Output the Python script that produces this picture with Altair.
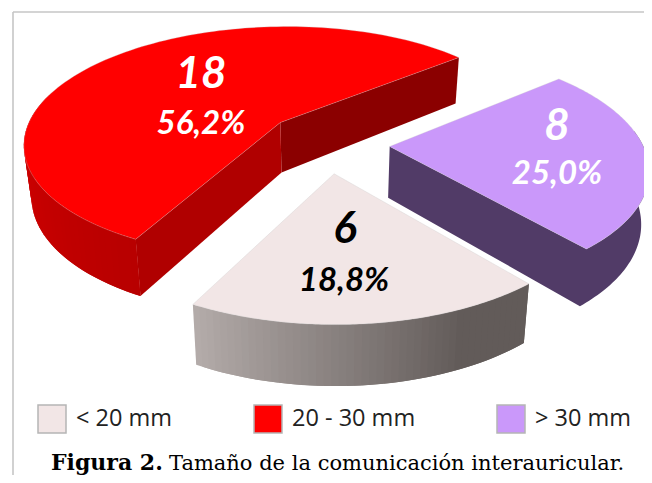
import numpy as np
import altair as alt

categories = ["< 20 mm", "20 - 30 mm", "> 30 mm"]
counts = [6, 18, 8]
percents = ["18,8%", "56,2%", "25,0%"]
top_colors = ["#f2e6e6", "#ff0000", "#ca98fa"]
label_colors = ["#000000", "#ffffff", "#ffffff"]

# clockwise order in which the slices run from the start angle
draw_order = [2, 0, 1]
START = -40.0
M = 8  # page margin
CX, CY, A, B, K, D, EXPL = 327 - M, 144 - M, 258, 118, 0.172, 51, 0.243
TAPER = 0.975
radius = [0.97, 1.0, 0.98]
nudge_x = [0, 1, 0]
nudge_y = [0, -4, 0]


def project(X, Z):
    f = 1 / (1 - K * Z)
    return CX + A * X * f, CY + B * Z * f, f


def top(i, X, Z):
    x, y, _ = project(X, Z)
    return [float(x + nudge_x[i]), float(y + nudge_y[i])]


def bottom(i, X, Z):
    x, y, f = project(X, Z)
    return [float(CX + (x - CX) * TAPER + nudge_x[i]), float(y + D * f ** 0.8 + nudge_y[i])]


def feature(ring, **props):
    ring = list(ring) + [ring[0]]
    return {"type": "Feature", "properties": props,
            "geometry": {"type": "Polygon", "coordinates": [ring]}}


def mix(c1, c2, t):
    t = min(t, 1.0)
    a = [int(c1[i:i + 2], 16) for i in (1, 3, 5)]
    b = [int(c2[i:i + 2], 16) for i in (1, 3, 5)]
    return "#%02x%02x%02x" % tuple(round(p + (q - p) * t) for p, q in zip(a, b))


total = sum(counts)
spans = {}
ang = START
for i in draw_order:
    sweep = counts[i] / total * 360
    spans[i] = (ang, ang + sweep)
    ang += sweep


def slice_geom(i):
    a0, a1 = spans[i]
    mid = np.radians((a0 + a1) / 2)
    ax, az = EXPL * np.cos(mid), EXPL * np.sin(mid)
    return ax, az, a0, a1


def world(i, deg):
    ax, az, _, _ = slice_geom(i)
    r = np.radians(deg)
    return ax + radius[i] * np.cos(r), az + radius[i] * np.sin(r)


def wall_strips(i, d0, d1, c0, c1, n=48, stretch=1.0):
    # every strip reaches over the next one, so that no seams show
    out = []
    edges = np.linspace(d0, d1, n + 1)
    for j in range(n):
        p, q = world(i, edges[j]), world(i, edges[min(j + 2, n)])
        col = mix(c0, c1, stretch * j / (n - 1))
        out.append(feature([top(i, *p), top(i, *q), bottom(i, *q), bottom(i, *p)], color=col))
    return out


def radial_wall(i, deg, col):
    ax, az, _, _ = slice_geom(i)
    e = world(i, deg)
    return feature([top(i, ax, az), top(i, *e), bottom(i, *e), bottom(i, ax, az)], color=col)


def flat_wall(i, d0, d1, col):
    # apex to the front corner, then along the rim, as one single shape
    ax, az, _, _ = slice_geom(i)
    degs = np.linspace(d0, d1, 60)
    upper = [top(i, ax, az)] + [top(i, *world(i, d)) for d in degs]
    lower = [bottom(i, *world(i, d)) for d in degs[::-1]] + [bottom(i, ax, az)]
    return feature(upper + lower, color=col)


walls = []
# 20 - 30 mm
walls.append(radial_wall(1, spans[1][1], "#8b0000"))
walls.append(radial_wall(1, spans[1][0], "#b00000"))
walls += wall_strips(1, 195, spans[1][0], "#d80000", "#b80000")
# > 30 mm
walls.append(flat_wall(2, spans[2][1], -8, "#513b67"))
# < 20 mm
walls += wall_strips(0, spans[0][1], spans[0][0], "#b3aba9", "#625b59", stretch=1.3)

tops = []
for i in [1, 2, 0]:
    ax, az, a0, a1 = slice_geom(i)
    arc = [top(i, *world(i, d)) for d in np.linspace(a0, a1, 120)]
    tops.append(feature([top(i, ax, az)] + arc, cat=categories[i]))

PROJ = dict(type="identity", scale=1, translate=[0, 0])


def geo_data(fs):
    return alt.InlineData(values={"type": "FeatureCollection", "features": fs},
                          format=alt.DataFormat(property="features", type="json"))


wall_layer = alt.Chart(geo_data(walls)).mark_geoshape(strokeWidth=0).encode(
    fill=alt.Color("properties.color:N", scale=None),
).project(**PROJ)

top_layer = alt.Chart(geo_data(tops)).mark_geoshape(stroke="#c8c8c8", strokeWidth=0.3).encode(
    fill=alt.Fill("properties.cat:N",
                  scale=alt.Scale(domain=categories, range=top_colors),
                  legend=alt.Legend(title=None, orient="none", legendX=37 - M, legendY=404 - M,
                                    direction="horizontal", columns=3, symbolType="square",
                                    symbolSize=784, symbolStrokeColor="#b5b5b5",
                                    symbolStrokeWidth=1.5, labelFont="Open Sans", labelFontSize=23.5,
                                    labelColor="#222222", labelOffset=9, columnPadding=78,
                                    padding=0, labelLimit=300)),
).project(**PROJ)

# label anchors, given on the page
count_x = [345 - M, 201 - M, 557 - M]
count_y = [230 - M, 75 - M, 127 - M]
pct_x = [344 - M, 201 - M, 557 - M]
pct_y = [281 - M, 124 - M, 174 - M]

count_rows = [{"t": str(c), "x": x, "y": y, "c": col}
              for c, x, y, col in zip(counts, count_x, count_y, label_colors)]
pct_rows = [{"t": p, "x": x, "y": y, "c": col}
            for p, x, y, col in zip(percents, pct_x, pct_y, label_colors)]


def labels(rows, size):
    return alt.Chart(alt.Data(values=rows)).mark_text(
        font="Lato", fontWeight="bold", fontStyle="italic", fontSize=size, baseline="middle"
    ).encode(
        x=alt.X("x:Q", scale=None), y=alt.Y("y:Q", scale=None),
        text="t:N", color=alt.Color("c:N", scale=None),
    )


W, H = 636, 467
frame_color = "#c6c6c6"
frame_top = alt.Chart(alt.Data(values=[{"a": 0}])).mark_rule(color=frame_color, strokeWidth=1.6).encode(
    x=alt.value(13 - M), x2=alt.value(W), y=alt.value(12 - M))
frame_left = alt.Chart(alt.Data(values=[{"a": 0}])).mark_rule(color=frame_color, strokeWidth=1.6).encode(
    x=alt.value(13 - M), y=alt.value(12 - M), y2=alt.value(H))

cap_bold = alt.Chart(alt.Data(values=[{"t": "Figura 2."}])).mark_text(
    font="DejaVu Serif", fontWeight="bold", fontSize=22, align="left", baseline="alphabetic", color="#000000"
).encode(x=alt.value(51 - M), y=alt.value(470 - M), text="t:N")
cap_reg = alt.Chart(alt.Data(values=[{"t": "Tamaño de la comunicación interauricular."}])).mark_text(
    font="DejaVu Serif", fontSize=21, align="left", baseline="alphabetic", color="#000000"
).encode(x=alt.value(169 - M), y=alt.value(470 - M), text="t:N")

chart = alt.layer(
    frame_top, frame_left, wall_layer, top_layer,
    labels(count_rows, 44), labels(pct_rows, 33), cap_bold, cap_reg,
).resolve_scale(fill="independent", stroke="independent", color="independent", x="independent", y="independent").properties(
    width=W, height=H, padding=0, autosize=alt.AutoSizeParams(type="none"), background="#ffffff",
).configure_view(stroke=None)

chart.save("out.html", embed_options={"renderer": "svg", "actions": False})
